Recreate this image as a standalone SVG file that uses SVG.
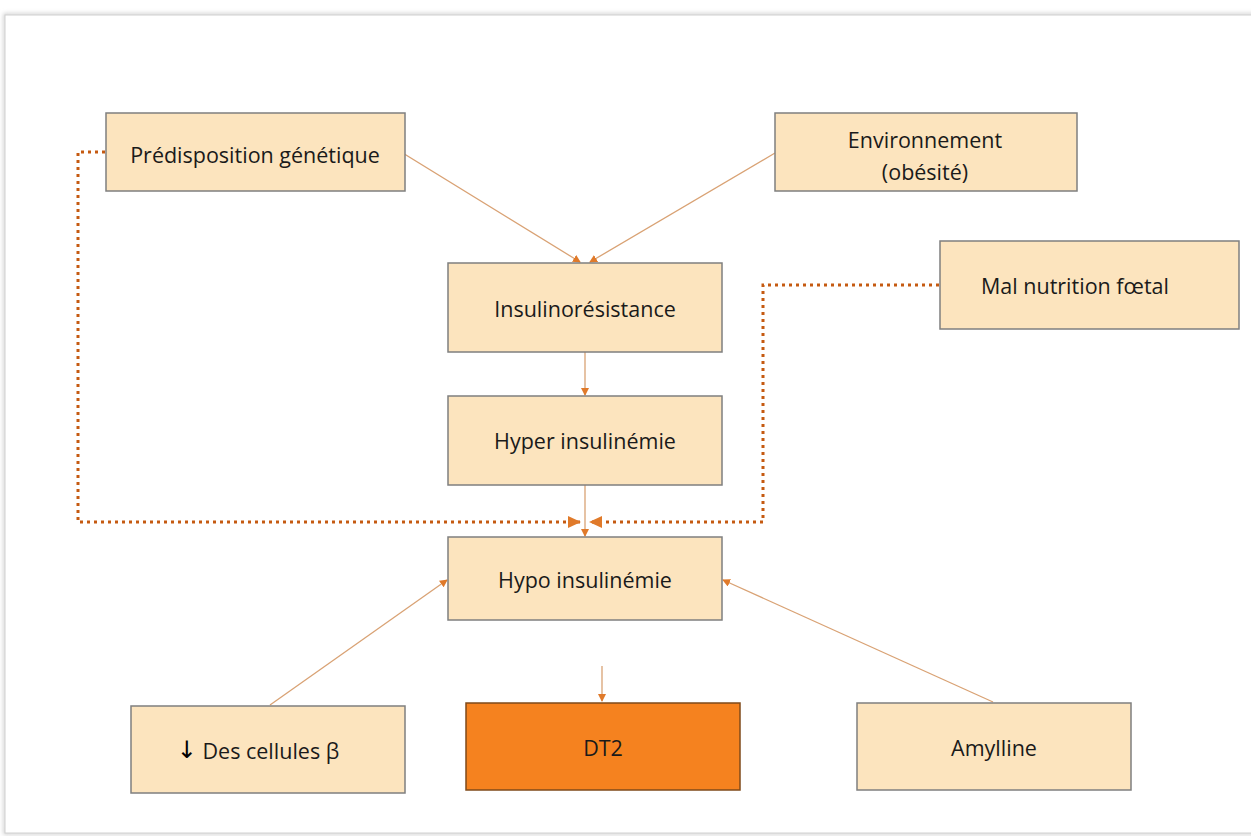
<svg xmlns="http://www.w3.org/2000/svg" width="1251" height="836" viewBox="0 0 1251 836">
<defs>
<style>
.box{fill:#FCE4BE;stroke:#7F7F7F;stroke-width:1.5}
.dt2{fill:#F5821F;stroke:#7F4A1A;stroke-width:1.5}
.t{font-family:"Open Sans","Liberation Sans",sans-serif;font-size:21.5px;font-weight:500;fill:#1a1a1a;text-anchor:middle;dominant-baseline:central}
.ln{stroke:#D9A274;stroke-width:1.3;fill:none}
.dot{stroke:#C55A11;stroke-width:3;stroke-dasharray:3 4;fill:none}
</style>
<marker id="ah" markerWidth="8" markerHeight="8" refX="7" refY="4" orient="auto" markerUnits="userSpaceOnUse">
<path d="M0,0 L8,4 L0,8 z" fill="#E07A2A"/>
</marker>
<marker id="ahd" markerWidth="14" markerHeight="12" refX="12" refY="6" orient="auto" markerUnits="userSpaceOnUse">
<path d="M0,0 L13,6 L0,12 z" fill="#E07A2A"/>
</marker>
<filter id="sh" x="-5%" y="-5%" width="110%" height="110%">
<feGaussianBlur stdDeviation="2"/>
</filter>
</defs>
<rect width="1251" height="836" fill="#ffffff"/>
<rect x="5" y="15" width="1260" height="818" fill="none" stroke="#c8c8c8" stroke-width="3" filter="url(#sh)"/>
<rect x="5" y="15" width="1260" height="818" fill="#ffffff" stroke="#d0d0d0" stroke-width="1"/>

<g id="connectors">
<line class="ln" x1="393" y1="147" x2="580" y2="262" marker-end="url(#ah)"/>
<line class="ln" x1="775" y1="153" x2="590" y2="262" marker-end="url(#ah)"/>
<line class="ln" x1="585" y1="352" x2="585" y2="395" marker-end="url(#ah)"/>
<line class="ln" x1="585" y1="485" x2="585" y2="536" marker-end="url(#ah)"/>
<polyline class="dot" points="105,152 78,152 78,522 580,522" marker-end="url(#ahd)"/>
<polyline class="dot" points="939,285 763,285 763,522 590,522" marker-end="url(#ahd)"/>
<line class="ln" x1="602" y1="666" x2="602" y2="701" marker-end="url(#ah)"/>
<line class="ln" x1="270" y1="705" x2="447" y2="580" marker-end="url(#ah)"/>
<line class="ln" x1="993" y1="702" x2="723" y2="580" marker-end="url(#ah)"/>
</g>

<g id="n-predisposition"><rect class="box" x="106" y="113" width="299" height="78"/><text class="t" x="255" y="154">Prédisposition génétique</text></g>
<g id="n-environnement"><rect class="box" x="775" y="113" width="302" height="78"/><text class="t" x="925" y="139">Environnement</text><text class="t" x="925" y="171">(obésité)</text></g>
<g id="n-insulinoresistance"><rect class="box" x="448" y="263" width="274" height="89"/><text class="t" x="585" y="308">Insulinorésistance</text></g>
<g id="n-malnutrition"><rect class="box" x="940" y="241" width="299" height="88"/><text class="t" x="1075" y="285">Mal nutrition fœtal</text></g>
<g id="n-hyper"><rect class="box" x="448" y="396" width="274" height="89"/><text class="t" x="585" y="440">Hyper insulinémie</text></g>
<g id="n-hypo"><rect class="box" x="448" y="537" width="274" height="83"/><text class="t" x="585" y="579">Hypo insulinémie</text></g>
<g id="n-cellules"><rect class="box" x="131" y="706" width="274" height="87"/><text class="t" x="258" y="750"><tspan font-family="DejaVu Sans" font-weight="400" font-size="24px" fill="#000000">↓</tspan> Des cellules β</text></g>
<g id="n-dt2"><rect class="dt2" x="466" y="703" width="274" height="87"/><text class="t" x="603" y="747">DT2</text></g>
<g id="n-amylline"><rect class="box" x="857" y="703" width="274" height="87"/><text class="t" x="994" y="747">Amylline</text></g>
</svg>
